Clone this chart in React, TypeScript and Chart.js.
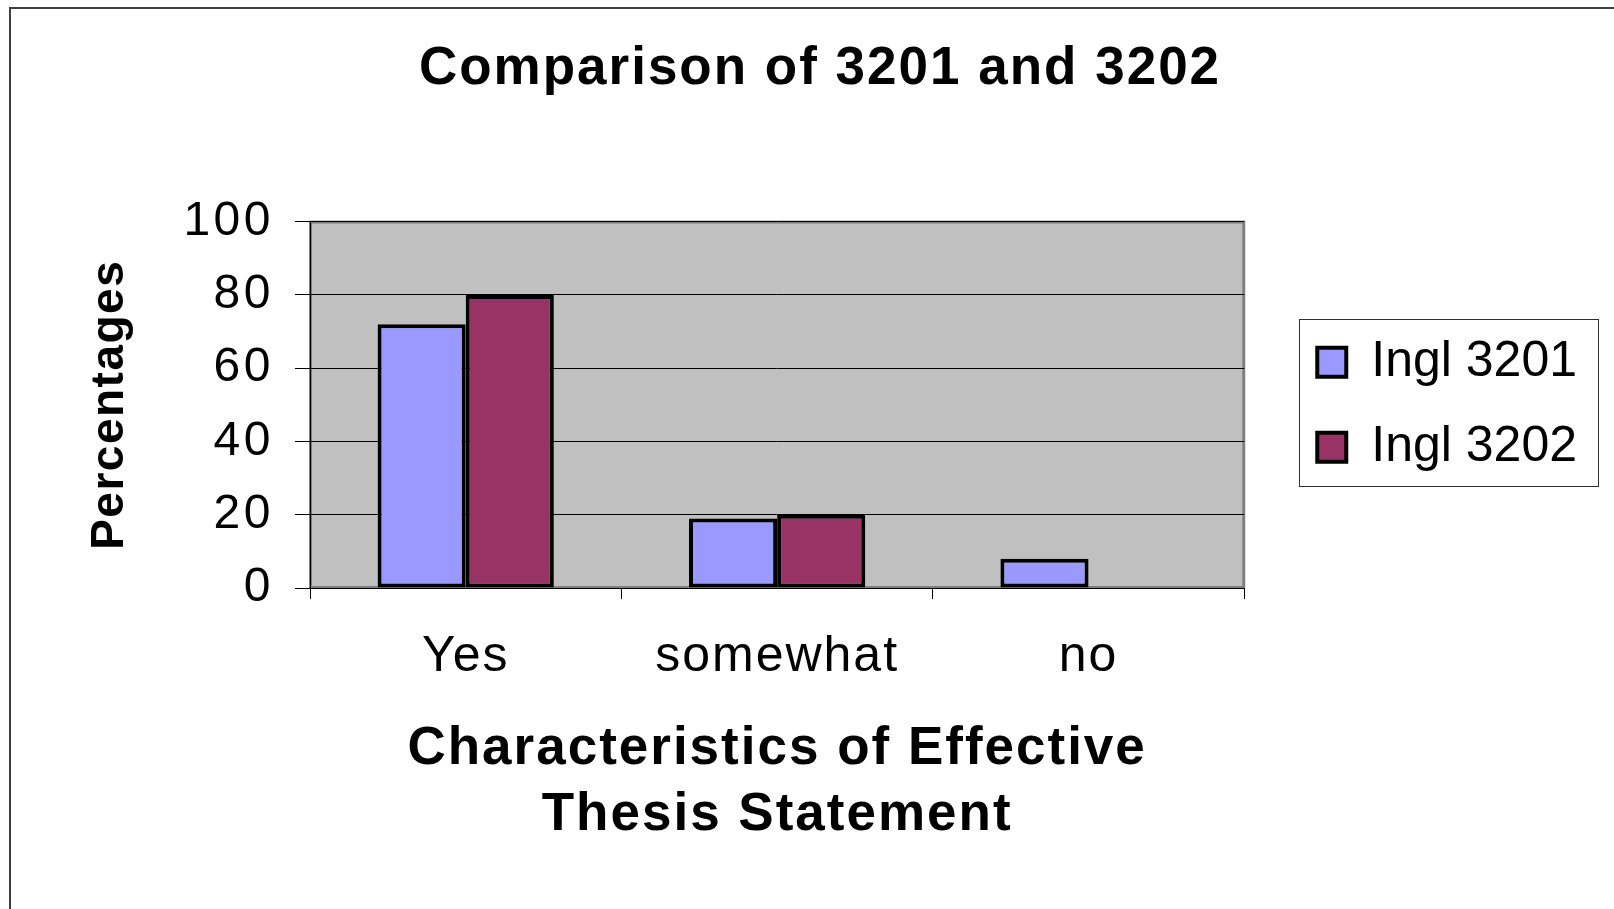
import React, { useEffect, useRef } from 'react';
import { Chart, registerables } from 'chart.js';

Chart.register(...registerables);

const categories = ['Yes', 'somewhat', 'no'];
const seriesNames = ['Ingl 3201', 'Ingl 3202'];
const ingl3201 = [72, 19, 8];
const ingl3202 = [80, 20, 0];
const yTicks = [0, 20, 40, 60, 80, 100];
const chartTitle = 'Comparison of 3201 and 3202';
const xTitle = ['Characteristics of Effective', 'Thesis Statement'];
const yTitle = 'Percentages';
const seriesColors = ['#9999FF', '#993366'];

const FONT = '"Liberation Sans", Arial, sans-serif';

function wrapSpacing(obj: any, method: string, spacing: string) {
  if (!obj || typeof obj[method] !== 'function') return;
  const orig = obj[method];
  if (orig.__spaced) return;
  const wrapped = function (this: any, ...args: any[]) {
    const ctx = this.ctx;
    const prev = ctx.letterSpacing;
    ctx.letterSpacing = spacing;
    try {
      return orig.apply(this, args);
    } finally {
      ctx.letterSpacing = prev === undefined ? '0px' : prev;
    }
  };
  (wrapped as any).__spaced = true;
  obj[method] = wrapped;
}

const textSpacing = {
  id: 'textSpacing',
  afterLayout(chart: any) {
    wrapSpacing(chart.titleBlock, 'draw', '2px');
    wrapSpacing(chart.scales.x, 'drawLabels', '2px');
    wrapSpacing(chart.scales.x, 'drawTitle', '2px');
    wrapSpacing(chart.scales.y, 'drawLabels', '3.5px');
    wrapSpacing(chart.scales.y, 'drawTitle', '1.5px');
  },
};

const plotBg = {
  id: 'plotBg',
  beforeDraw(chart: any) {
    const { ctx, chartArea: a } = chart;
    ctx.save();
    ctx.fillStyle = '#C0C0C0';
    ctx.fillRect(a.left, a.top, a.right - a.left, a.bottom - a.top);
    ctx.strokeStyle = '#808080';
    ctx.lineWidth = 3;
    ctx.strokeRect(a.left + 0.5, a.top + 0.5, a.right - a.left - 1, a.bottom - a.top - 1);
    ctx.restore();
  },
};

const legendFrame = {
  id: 'legendFrame',
  afterDraw(chart: any) {
    const lg = chart.legend;
    if (!lg || !lg.legendHitBoxes || !lg.legendHitBoxes.length) return;
    const hb = lg.legendHitBoxes;
    let l = Infinity, t = Infinity, r = -Infinity, b = -Infinity;
    hb.forEach((h: any) => {
      l = Math.min(l, h.left);
      t = Math.min(t, h.top);
      r = Math.max(r, h.left + h.width);
      b = Math.max(b, h.top + h.height);
    });
    const ctx = chart.ctx;
    ctx.save();
    ctx.strokeStyle = '#303030';
    ctx.lineWidth = 1;
    ctx.strokeRect(Math.round(l - 18) + 0.5, Math.round(t - 18) + 0.5, Math.round(r - l + 39), Math.round(b - t + 32));
    ctx.restore();
  },
};

export default function App() {
  const ref = useRef<HTMLCanvasElement | null>(null);

  useEffect(() => {
    if (!ref.current) return;
    const makeDataset = (i: number, data: number[]) => ({
      label: seriesNames[i],
      data,
      backgroundColor: seriesColors[i],
      borderColor: '#000000',
      borderWidth: 4,
      borderSkipped: false,
      categoryPercentage: 0.566,
      barPercentage: 1,
      xAxisID: 'x',
      yAxisID: 'y',
    });
    const chart = new Chart(ref.current, {
      type: 'bar',
      data: {
        labels: categories,
        datasets: [makeDataset(0, ingl3201), makeDataset(1, ingl3202)],
      },
      options: {
        responsive: false,
        animation: false,
        layout: { padding: { left: 42, right: 42, top: 0, bottom: 0 } },
        plugins: {
          title: {
            display: true,
            text: chartTitle,
            color: '#000000',
            font: { family: FONT, size: 53, weight: 'bold', lineHeight: 1.2 },
            padding: { top: 29, bottom: 120 },
          },
          legend: {
            display: true,
            position: 'right',
            align: 'center',
            fullSize: false,
            maxWidth: 600,
            labels: {
              color: '#000000',
              font: { family: FONT, size: 50 },
              boxWidth: 29,
              boxHeight: 29,
              padding: 35,
            },
          },
          tooltip: { enabled: false },
        },
        scales: {
          x: {
            type: 'category',
            offset: true,
            grid: {
              display: true,
              drawOnChartArea: false,
              drawTicks: true,
              tickLength: 11,
              color: '#000000',
              lineWidth: 1,
              offset: true,
            },
            border: { display: true, color: '#000000', width: 1 },
            ticks: {
              color: '#000000',
              font: { family: FONT, size: 50 },
              padding: 28,
              maxRotation: 0,
              autoSkip: false,
            },
            title: {
              display: true,
              text: xTitle,
              color: '#000000',
              font: { family: FONT, size: 53, weight: 'bold', lineHeight: 66 / 53 },
              padding: { top: 0, bottom: 61 },
            },
            afterFit: (s: any) => {
              s.height = 321;
            },
          },
          y: {
            type: 'linear',
            position: 'left',
            min: 0,
            max: 100,
            grid: {
              color: '#000000',
              lineWidth: 1,
              drawTicks: true,
              tickLength: 15,
            },
            border: { display: true, color: '#000000', width: 1 },
            ticks: {
              stepSize: 20,
              color: '#000000',
              font: { family: FONT, size: 48 },
              padding: 21,
            },
            afterBuildTicks: (s: any) => {
              s.ticks = yTicks.map((v) => ({ value: v }));
            },
            title: {
              display: true,
              text: yTitle,
              color: '#000000',
              font: { family: FONT, size: 46, weight: 'bold', lineHeight: 1 },
              padding: { top: 34, bottom: 0 },
            },
            afterFit: (s: any) => {
              s.width = 257;
            },
          },
          spacer: {
            type: 'linear',
            axis: 'y',
            position: 'right',
            display: true,
            grid: { display: false, drawTicks: false },
            border: { display: false },
            ticks: { display: false },
            title: { display: false },
            afterFit: (s: any) => {
              s.width = 38;
            },
          },
        },
      } as any,
      plugins: [textSpacing, plotBg, legendFrame],
    });
    return () => chart.destroy();
  }, []);

  return (
    <div
      style={{
        position: 'absolute',
        left: 0,
        top: 0,
        width: 1614,
        height: 909,
        overflow: 'hidden',
        background: '#ffffff',
      }}
    >
      <div
        style={{
          position: 'absolute',
          left: 9,
          top: 7,
          width: 1700,
          height: 1000,
          borderLeft: '2px solid #404040',
          borderTop: '2px solid #404040',
        }}
      />
      <canvas
        ref={ref}
        width={1618}
        height={900}
        style={{ position: 'absolute', left: 11, top: 9, width: 1618, height: 900 }}
      />
    </div>
  );
}
